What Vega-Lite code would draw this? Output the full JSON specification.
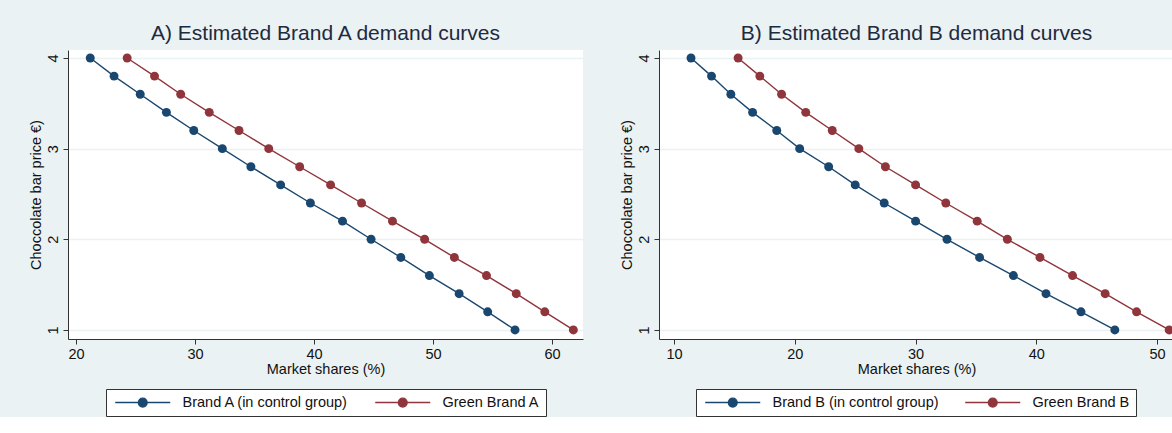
{
  "$schema": "https://vega.github.io/schema/vega-lite/v6.json",
  "background": "#EAF2F3",
  "padding": {"left": 28, "top": 23, "right": 0, "bottom": 0},
  "config": {
    "font": "Liberation Sans",
    "view": {"fill": "white", "stroke": null},
    "axis": {
      "labelFont": "Liberation Sans", "labelFontSize": 14.5, "labelColor": "#111",
      "titleFont": "Liberation Sans", "titleFontSize": 14.5, "titleFontWeight": "normal", "titleColor": "#111",
      "domainColor": "#333", "tickColor": "#333", "gridColor": "#EAF2F3", "gridWidth": 1.5, "tickSize": 5
    },
    "title": {"font": "Liberation Sans", "fontSize": 21, "fontWeight": "normal", "color": "#1e2a3f", "anchor": "middle", "offset": 6},
    "legend": {
      "labelFont": "Liberation Sans", "labelFontSize": 14.5, "labelColor": "#111", "labelLimit": 400,
      "strokeColor": "#333", "fillColor": "white", "padding": 6,
      "symbolType": "M-1,0L12.75,0M6.975,0A1.1,1.1,0,1,1,4.775,0A1.1,1.1,0,1,1,6.975,0Z",
      "symbolSize": 64, "symbolStrokeWidth": 1.4, "labelOffset": 56, "columnPadding": 23
    },
    "concat": {"spacing": 36}
  },
  "resolve": {"scale": {"color": "independent", "x": "independent"}, "legend": {"color": "independent"}},
  "hconcat": [
    {
      "width": 515, "height": 289,
      "title": "A) Estimated Brand A demand curves",
      "data": {"values": [
        {"series": "Brand A (in control group)", "price": 4.0, "share": 21.2},
        {"series": "Brand A (in control group)", "price": 3.8, "share": 23.2},
        {"series": "Brand A (in control group)", "price": 3.6, "share": 25.4},
        {"series": "Brand A (in control group)", "price": 3.4, "share": 27.6},
        {"series": "Brand A (in control group)", "price": 3.2, "share": 29.9},
        {"series": "Brand A (in control group)", "price": 3.0, "share": 32.3},
        {"series": "Brand A (in control group)", "price": 2.8, "share": 34.7},
        {"series": "Brand A (in control group)", "price": 2.6, "share": 37.2},
        {"series": "Brand A (in control group)", "price": 2.4, "share": 39.7},
        {"series": "Brand A (in control group)", "price": 2.2, "share": 42.4},
        {"series": "Brand A (in control group)", "price": 2.0, "share": 44.8},
        {"series": "Brand A (in control group)", "price": 1.8, "share": 47.3},
        {"series": "Brand A (in control group)", "price": 1.6, "share": 49.7},
        {"series": "Brand A (in control group)", "price": 1.4, "share": 52.2},
        {"series": "Brand A (in control group)", "price": 1.2, "share": 54.6},
        {"series": "Brand A (in control group)", "price": 1.0, "share": 56.9},
        {"series": "Green Brand A", "price": 4.0, "share": 24.3},
        {"series": "Green Brand A", "price": 3.8, "share": 26.6},
        {"series": "Green Brand A", "price": 3.6, "share": 28.8},
        {"series": "Green Brand A", "price": 3.4, "share": 31.2},
        {"series": "Green Brand A", "price": 3.2, "share": 33.7},
        {"series": "Green Brand A", "price": 3.0, "share": 36.2},
        {"series": "Green Brand A", "price": 2.8, "share": 38.8},
        {"series": "Green Brand A", "price": 2.6, "share": 41.4},
        {"series": "Green Brand A", "price": 2.4, "share": 44.0},
        {"series": "Green Brand A", "price": 2.2, "share": 46.6},
        {"series": "Green Brand A", "price": 2.0, "share": 49.3},
        {"series": "Green Brand A", "price": 1.8, "share": 51.8},
        {"series": "Green Brand A", "price": 1.6, "share": 54.5},
        {"series": "Green Brand A", "price": 1.4, "share": 57.0},
        {"series": "Green Brand A", "price": 1.2, "share": 59.4},
        {"series": "Green Brand A", "price": 1.0, "share": 61.8}
      ]},
      "encoding": {
        "x": {"field": "share", "type": "quantitative",
          "scale": {"domain": [19.33, 62.61], "nice": false, "zero": false},
          "axis": {"values": [20, 30, 40, 50, 60], "grid": false, "title": "Market shares (%)", "labelPadding": 3, "titlePadding": 2}},
        "y": {"field": "price", "type": "quantitative",
          "scale": {"domain": [0.9, 4.088], "nice": false, "zero": false},
          "axis": {"values": [1, 2, 3, 4], "grid": true, "labelAngle": -90, "title": "Choccolate bar price €)", "labelPadding": 3, "titlePadding": 2}},
        "color": {"field": "series", "type": "nominal",
          "scale": {"domain": ["Brand A (in control group)", "Green Brand A"], "range": ["#1A476F", "#90353B"]},
          "legend": {"title": null, "orient": "none", "direction": "horizontal", "legendX": 38, "legendY": 339}}
      },
      "layer": [
        {"mark": {"type": "line", "strokeWidth": 1.4}},
        {"mark": {"type": "point", "filled": true, "size": 80, "opacity": 1}}
      ]
    },
    {
      "width": 515, "height": 289,
      "title": "B) Estimated Brand B demand curves",
      "data": {"values": [
        {"series": "Brand B (in control group)", "price": 4.0, "share": 11.4},
        {"series": "Brand B (in control group)", "price": 3.8, "share": 13.1},
        {"series": "Brand B (in control group)", "price": 3.6, "share": 14.7},
        {"series": "Brand B (in control group)", "price": 3.4, "share": 16.5},
        {"series": "Brand B (in control group)", "price": 3.2, "share": 18.5},
        {"series": "Brand B (in control group)", "price": 3.0, "share": 20.4},
        {"series": "Brand B (in control group)", "price": 2.8, "share": 22.8},
        {"series": "Brand B (in control group)", "price": 2.6, "share": 25.0},
        {"series": "Brand B (in control group)", "price": 2.4, "share": 27.4},
        {"series": "Brand B (in control group)", "price": 2.2, "share": 30.0},
        {"series": "Brand B (in control group)", "price": 2.0, "share": 32.6},
        {"series": "Brand B (in control group)", "price": 1.8, "share": 35.3},
        {"series": "Brand B (in control group)", "price": 1.6, "share": 38.1},
        {"series": "Brand B (in control group)", "price": 1.4, "share": 40.8},
        {"series": "Brand B (in control group)", "price": 1.2, "share": 43.7},
        {"series": "Brand B (in control group)", "price": 1.0, "share": 46.5},
        {"series": "Green Brand B", "price": 4.0, "share": 15.3},
        {"series": "Green Brand B", "price": 3.8, "share": 17.1},
        {"series": "Green Brand B", "price": 3.6, "share": 18.9},
        {"series": "Green Brand B", "price": 3.4, "share": 20.9},
        {"series": "Green Brand B", "price": 3.2, "share": 23.1},
        {"series": "Green Brand B", "price": 3.0, "share": 25.3},
        {"series": "Green Brand B", "price": 2.8, "share": 27.5},
        {"series": "Green Brand B", "price": 2.6, "share": 30.0},
        {"series": "Green Brand B", "price": 2.4, "share": 32.5},
        {"series": "Green Brand B", "price": 2.2, "share": 35.1},
        {"series": "Green Brand B", "price": 2.0, "share": 37.6},
        {"series": "Green Brand B", "price": 1.8, "share": 40.3},
        {"series": "Green Brand B", "price": 1.6, "share": 43.0},
        {"series": "Green Brand B", "price": 1.4, "share": 45.7},
        {"series": "Green Brand B", "price": 1.2, "share": 48.3},
        {"series": "Green Brand B", "price": 1.0, "share": 51.0}
      ]},
      "encoding": {
        "x": {"field": "share", "type": "quantitative",
          "scale": {"domain": [8.75, 51.4], "nice": false, "zero": false},
          "axis": {"values": [10, 20, 30, 40, 50], "grid": false, "title": "Market shares (%)", "labelPadding": 3, "titlePadding": 2}},
        "y": {"field": "price", "type": "quantitative",
          "scale": {"domain": [0.9, 4.088], "nice": false, "zero": false},
          "axis": {"values": [1, 2, 3, 4], "grid": true, "labelAngle": -90, "title": "Choccolate bar price €)", "labelPadding": 3, "titlePadding": 2}},
        "color": {"field": "series", "type": "nominal",
          "scale": {"domain": ["Brand B (in control group)", "Green Brand B"], "range": ["#1A476F", "#90353B"]},
          "legend": {"title": null, "orient": "none", "direction": "horizontal", "legendX": 37, "legendY": 339}}
      },
      "layer": [
        {"mark": {"type": "line", "strokeWidth": 1.4}},
        {"mark": {"type": "point", "filled": true, "size": 80, "opacity": 1}}
      ]
    }
  ]
}
